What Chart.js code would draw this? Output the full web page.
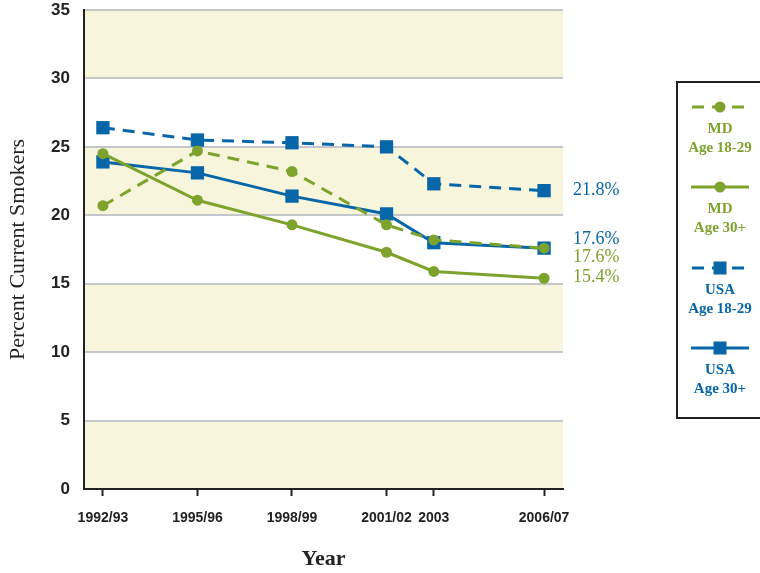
<!DOCTYPE html>
<html>
<head>
<meta charset="utf-8">
<script src="https://cdn.jsdelivr.net/npm/chart.js@4/dist/chart.umd.min.js"></script>
<style>
  body { margin: 0; background: #fff; }
  #wrap { width: 760px; height: 573px; }
</style>
</head>
<body>
<div id="wrap"><canvas id="smokers" width="760" height="573"></canvas></div>
<script>
// survey years (mid-point of each survey period) and their tick labels
var years = [1992.5, 1995.5, 1998.5, 2001.5, 2003, 2006.5];
var yearLabels = ['1992/93', '1995/96', '1998/99', '2001/02', '2003', '2006/07'];

// percent current smokers
var mdYoung = [20.7, 24.7, 23.2, 19.3, 18.2, 17.6];
var mdOld = [24.5, 21.1, 19.3, 17.3, 15.9, 15.4];
var usaYoung = [26.4, 25.5, 25.3, 25.0, 22.3, 21.8];
var usaOld = [23.9, 23.1, 21.4, 20.1, 18.0, 17.6];

var seriesNames = [['MD', 'Age 18-29'], ['MD', 'Age 30+'], ['USA', 'Age 18-29'], ['USA', 'Age 30+']];

var yTicks = [0, 5, 10, 15, 20, 25, 30, 35];

var blue = '#0766a8';
var green = '#7ea32d';
var band = '#f7f5dc';
var serif = "'Liberation Serif', 'DejaVu Serif', serif";
var sans = "'Liberation Sans', Arial, sans-serif";

function pts(vals) {
  return vals.map(function (v, i) { return { x: years[i], y: v }; });
}

// alternating cream bands behind the plot
var bandsPlugin = {
  id: 'bands',
  beforeDraw: function (chart) {
    var ctx = chart.ctx, a = chart.chartArea, y = chart.scales.y;
    ctx.save();
    ctx.fillStyle = band;
    for (var i = 0; i < yTicks.length - 1; i += 2) {
      var top = y.getPixelForValue(yTicks[i + 1]);
      var bot = y.getPixelForValue(yTicks[i]);
      ctx.fillRect(a.left, top, a.right - a.left, bot - top);
    }
    ctx.restore();
  }
};

// value labels at the right end of each line
var endOffsets = [9, -1, 0, -9];
var endLabelsPlugin = {
  id: 'endLabels',
  afterDatasetsDraw: function (chart) {
    var ctx = chart.ctx;
    ctx.save();
    ctx.font = '18px ' + serif;
    ctx.textAlign = 'left';
    ctx.textBaseline = 'middle';
    chart.data.datasets.forEach(function (ds, i) {
      var meta = chart.getDatasetMeta(i);
      var last = meta.data[meta.data.length - 1];
      var v = ds.data[ds.data.length - 1].y;
      ctx.fillStyle = ds.borderColor;
      ctx.fillText(v.toFixed(1) + '%', 573, last.y + endOffsets[i]);
    });
    ctx.restore();
  }
};

// boxed legend on the right
var legendBoxPlugin = {
  id: 'legendBox',
  afterDraw: function (chart) {
    var ctx = chart.ctx;
    var cx = 720;
    var rows = [107, 187, 268, 348];
    ctx.save();
    ctx.strokeStyle = '#222';
    ctx.lineWidth = 2;
    ctx.strokeRect(677, 82, 100, 336);
    chart.data.datasets.forEach(function (ds, i) {
      var y = rows[i];
      ctx.strokeStyle = ds.borderColor;
      ctx.fillStyle = ds.borderColor;
      ctx.lineWidth = 3;
      ctx.setLineDash(ds.borderDash || []);
      ctx.lineDashOffset = ds.borderDash ? -1 : 0;
      ctx.beginPath();
      ctx.moveTo(691, y);
      ctx.lineTo(749, y);
      ctx.stroke();
      ctx.setLineDash([]);
      if (ds.pointStyle === 'rect') {
        ctx.fillRect(cx - 6.5, y - 6.5, 13, 13);
      } else {
        ctx.beginPath();
        ctx.arc(cx, y, 5.5, 0, Math.PI * 2);
        ctx.fill();
      }
      ctx.font = 'bold 15px ' + serif;
      ctx.textAlign = 'center';
      ctx.textBaseline = 'middle';
      ctx.fillText(seriesNames[i][0], cx, y + 22);
      ctx.fillText(seriesNames[i][1], cx, y + 41);
    });
    ctx.restore();
  }
};

new Chart(document.getElementById('smokers'), {
  type: 'line',
  data: {
    datasets: [{
      label: 'MD Age 18-29',
      data: pts(mdYoung),
      borderColor: green,
      backgroundColor: green,
      borderDash: [12, 8],
      borderWidth: 3,
      pointStyle: 'circle',
      pointRadius: 5.5,
      pointBorderWidth: 0
    }, {
      label: 'MD Age 30+',
      data: pts(mdOld),
      borderColor: green,
      backgroundColor: green,
      borderWidth: 3,
      pointStyle: 'circle',
      pointRadius: 5.5,
      pointBorderWidth: 0
    }, {
      label: 'USA Age 18-29',
      data: pts(usaYoung),
      borderColor: blue,
      backgroundColor: blue,
      borderDash: [12, 8],
      borderWidth: 3,
      pointStyle: 'rect',
      pointRadius: 9.4,
      pointBorderWidth: 0
    }, {
      label: 'USA Age 30+',
      data: pts(usaOld),
      borderColor: blue,
      backgroundColor: blue,
      borderWidth: 3,
      pointStyle: 'rect',
      pointRadius: 9.4,
      pointBorderWidth: 0
    }]
  },
  options: {
    responsive: false,
    animation: false,
    layout: { padding: { top: 10, right: 197, bottom: 0, left: 0 } },
    plugins: {
      legend: { display: false },
      tooltip: { enabled: false }
    },
    scales: {
      x: {
        type: 'linear',
        min: 1991.9,
        max: 2007.1,
        afterBuildTicks: function (scale) {
          scale.ticks = years.map(function (v) { return { value: v }; });
        },
        afterFit: function (scale) {
          scale.height = 84;
          scale.paddingLeft = 0;
          scale.paddingRight = 0;
        },
        border: { display: true, color: '#222', width: 2 },
        grid: { drawOnChartArea: false, drawTicks: true, tickLength: 7, tickColor: '#222', tickWidth: 2 },
        ticks: {
          padding: 14,
          color: '#222',
          font: { family: sans, size: 14, weight: 'bold' },
          maxRotation: 0,
          autoSkip: false,
          callback: function (v) {
            var i = years.indexOf(v);
            return i >= 0 ? yearLabels[i] : '';
          }
        },
        title: {
          display: true,
          text: 'Year',
          color: '#222',
          font: { family: serif, size: 22, weight: 'bold' },
          padding: { top: 0, bottom: 0 }
        }
      },
      y: {
        min: 0,
        max: 35,
        afterBuildTicks: function (scale) {
          scale.ticks = yTicks.map(function (v) { return { value: v }; });
        },
        afterFit: function (scale) {
          scale.width = 84;
          scale.paddingTop = 0;
          scale.paddingBottom = 0;
        },
        border: { display: true, color: '#222', width: 2 },
        grid: { color: '#c5c8cb', lineWidth: 2, drawTicks: false },
        ticks: {
          padding: 14,
          color: '#222',
          font: { family: sans, size: 17, weight: 'bold' }
        },
        title: {
          display: true,
          text: 'Percent Current Smokers',
          color: '#222',
          font: { family: serif, size: 22, weight: 'normal' },
          padding: { top: 5, bottom: 0 }
        }
      }
    }
  },
  plugins: [bandsPlugin, endLabelsPlugin, legendBoxPlugin]
});
</script>
</body>
</html>
